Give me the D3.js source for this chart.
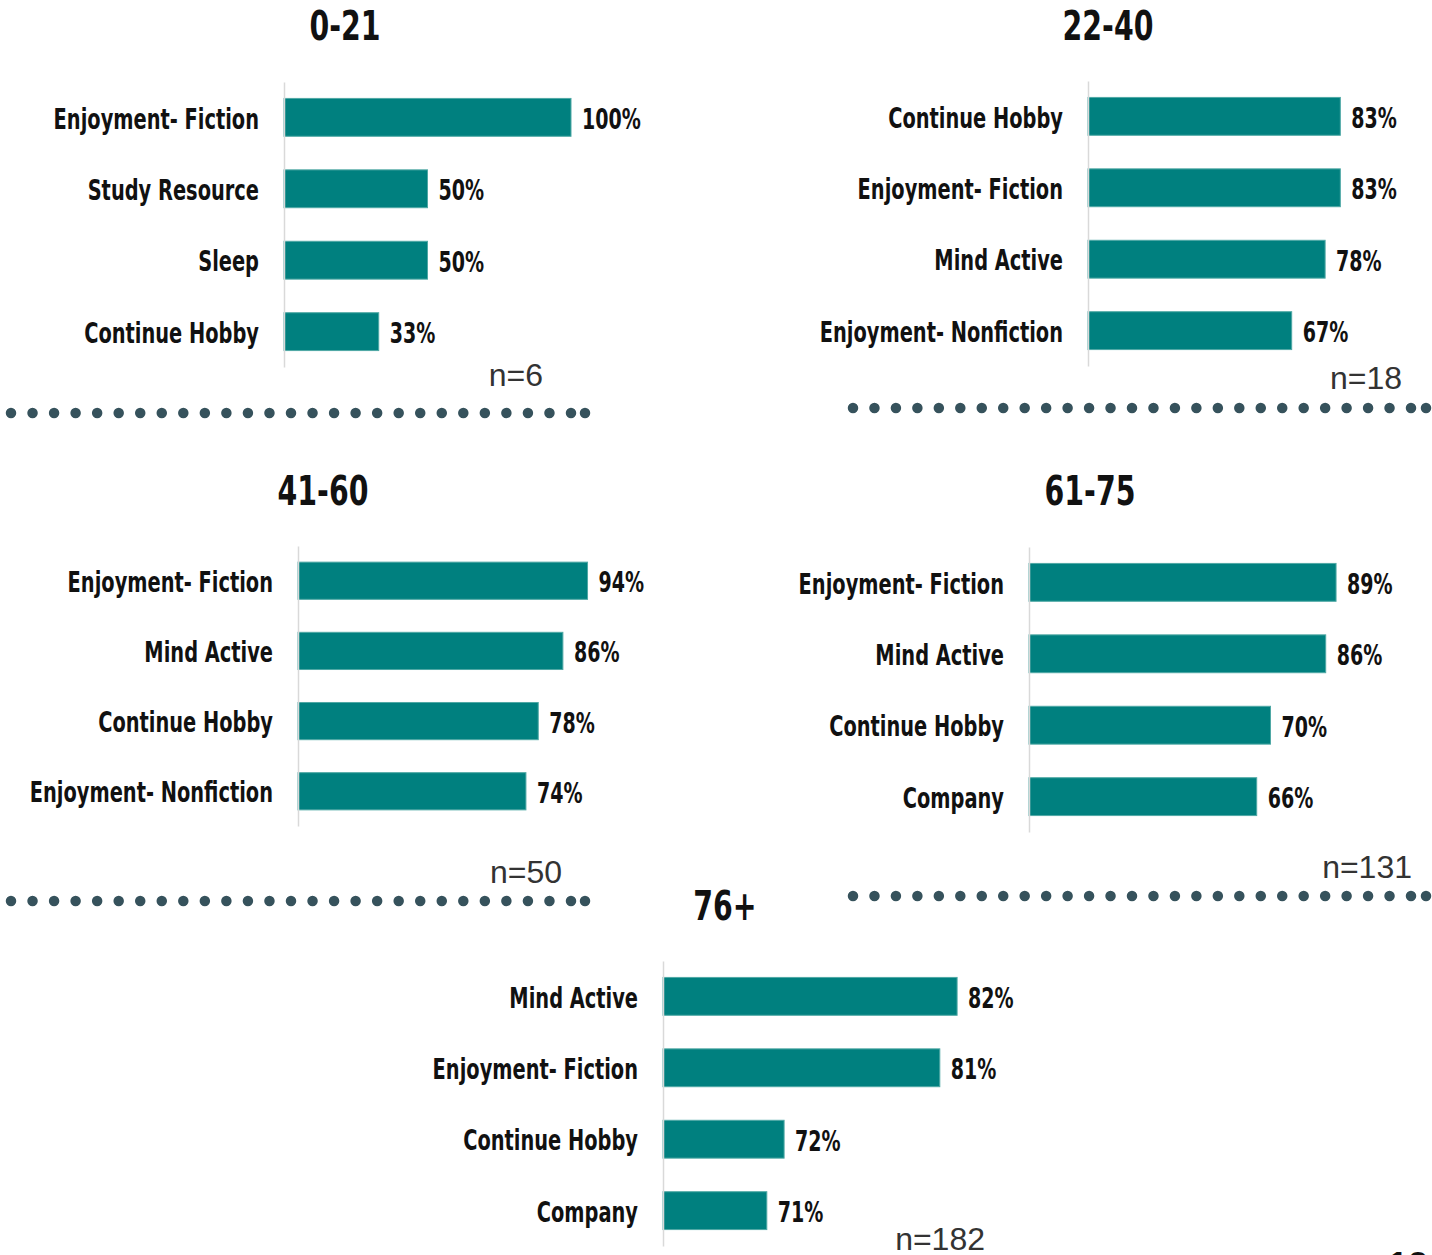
<!DOCTYPE html>
<html>
<head>
<meta charset="utf-8">
<script src="https://cdnjs.cloudflare.com/ajax/libs/d3/7.8.5/d3.min.js"></script>
<style>
  html, body { margin: 0; padding: 0; background: #ffffff; }
  .cat, .val, .title { font-family: "Liberation Sans Narrow", "DejaVu Sans Condensed", "Open Sans", sans-serif; font-weight: bold; fill: #111; }
  .nlab { font-family: "Liberation Sans", "DejaVu Sans", sans-serif; fill: #333; }
</style>
</head>
<body>
<div id="chart"></div>
<script>
// ========================================
// Data: one entry per age group
// ========================================
const titles = ['0-21', '22-40', '41-60', '61-75', '76+'];
const nLabels = ['n=6', 'n=18', 'n=50', 'n=131', 'n=182'];

const cats021 = ['Enjoyment- Fiction', 'Study Resource', 'Sleep', 'Continue Hobby'];
const vals021 = [100, 50, 50, 33];

const cats2240 = ['Continue Hobby', 'Enjoyment- Fiction', 'Mind Active', 'Enjoyment- Nonfiction'];
const vals2240 = [83, 83, 78, 67];

const cats4160 = ['Enjoyment- Fiction', 'Mind Active', 'Continue Hobby', 'Enjoyment- Nonfiction'];
const vals4160 = [94, 86, 78, 74];

const cats6175 = ['Enjoyment- Fiction', 'Mind Active', 'Continue Hobby', 'Company'];
const vals6175 = [89, 86, 70, 66];

const cats76 = ['Mind Active', 'Enjoyment- Fiction', 'Continue Hobby', 'Company'];
const vals76 = [82, 81, 72, 71];

const categories = [cats021, cats2240, cats4160, cats6175, cats76];
const values = [vals021, vals2240, vals4160, vals6175, vals76];

// ========================================
// Layout of each panel (pixels)
// ========================================
const width = 1432,
      height = 1255,
      barColor = '#00807f',
      dotColor = '#36525c',
      squeeze = 0.77;        // condensed look for the bold texts

const layout = [
  { x0: 284,  x1: 571,    dom: [0, 100], y0: 82,  y1: 367,  tx: 345,  ty: 40,  nx: 543,  ny: 386 },
  { x0: 1088, x1: 1392,   dom: [0, 100], y0: 81,  y1: 366,  tx: 1108, ty: 40,  nx: 1402, ny: 389 },
  { x0: 298,  x1: 606,    dom: [0, 100], y0: 546, y1: 826,  tx: 323,  ty: 505, nx: 562,  ny: 883 },
  { x0: 1029, x1: 1374,   dom: [0, 100], y0: 547, y1: 832,  tx: 1090, ty: 505, nx: 1412, ny: 878 },
  { x0: 663,  x1: 1268.5, dom: [65, 100], y0: 961, y1: 1246, tx: 725,  ty: 920, nx: 985,  ny: 1250 }
];

// dotted separators: [first dot x, last regular dot x, extra end dot x, y]
const dotted = [
  [11, 571, 585, 413],
  [853, 1411, 1426, 408],
  [11, 571, 585, 901],
  [853, 1411, 1426, 896]
];

const svg = d3.select('#chart')
  .append('svg')
    .attr('width', width)
    .attr('height', height);

// shrink text horizontally so it looks like a condensed face
function condense(sel) {
  sel.each(function () {
    const w = this.getComputedTextLength();
    d3.select(this)
      .attr('textLength', w * squeeze)
      .attr('lengthAdjust', 'spacingAndGlyphs');
  });
}

layout.forEach((L, p) => {
  const g = svg.append('g');
  const cats = categories[p];
  const vals = values[p];

  const x = d3.scaleLinear().domain(L.dom).range([L.x0, L.x1]);
  const y = d3.scaleBand()
    .domain(cats)
    .range([L.y0, L.y1])
    .paddingInner(0.47)
    .paddingOuter(0.23);

  // title
  g.append('text')
    .attr('class', 'title')
    .attr('x', L.tx)
    .attr('y', L.ty)
    .attr('text-anchor', 'middle')
    .style('font-size', '41px')
    .text(titles[p])
    .call(condense);

  // bars
  g.selectAll('rect')
    .data(vals)
    .enter()
    .append('rect')
      .attr('x', L.x0)
      .attr('y', (d, i) => y(cats[i]))
      .attr('width', d => x(d) - L.x0)
      .attr('height', y.bandwidth())
      .attr('fill', barColor)
      .attr('stroke', '#4fa8a5')
      .attr('stroke-width', 1);

  // vertical axis with category labels
  const axis = g.append('g')
    .attr('transform', 'translate(' + L.x0 + ',0)')
    .call(d3.axisLeft(y).tickSize(0).tickPadding(25));
  axis.select('.domain').attr('stroke', '#d9d9d9').attr('stroke-width', 1.5);
  axis.selectAll('text')
    .attr('class', 'cat')
    .attr('fill', '#111')
    .attr('dy', '0.4em')
    .style('font-size', '28px')
    .call(condense);

  // value labels
  g.selectAll('.val')
    .data(vals)
    .enter()
    .append('text')
      .attr('class', 'val')
      .attr('x', d => x(d) + 11)
      .attr('y', (d, i) => y(cats[i]) + y.bandwidth() / 2)
      .attr('dy', '0.42em')
      .style('font-size', '27.5px')
      .text(d => d + '%')
      .call(condense);

  // sample size
  g.append('text')
    .attr('class', 'nlab')
    .attr('x', L.nx)
    .attr('y', L.ny)
    .attr('text-anchor', 'end')
    .style('font-size', '32px')
    .text(nLabels[p]);
});

// dotted separators
dotted.forEach(d => {
  svg.append('line')
    .attr('x1', d[0]).attr('x2', d[1] + 1)
    .attr('y1', d[3]).attr('y2', d[3])
    .attr('stroke', dotColor)
    .attr('stroke-width', 10.5)
    .attr('stroke-linecap', 'round')
    .attr('stroke-dasharray', '0 ' + ((d[1] - d[0]) / 26));
  svg.append('circle')
    .attr('cx', d[2])
    .attr('cy', d[3])
    .attr('r', 5.25)
    .attr('fill', dotColor);
});

// page number (cut off at the bottom edge)
svg.append('text')
  .attr('x', 1408)
  .attr('y', 1278)
  .attr('text-anchor', 'middle')
  .style('font-family', '"Liberation Sans", sans-serif')
  .style('font-weight', 'bold')
  .style('font-size', '36px')
  .attr('fill', '#111')
  .text('12');
</script>
</body>
</html>
